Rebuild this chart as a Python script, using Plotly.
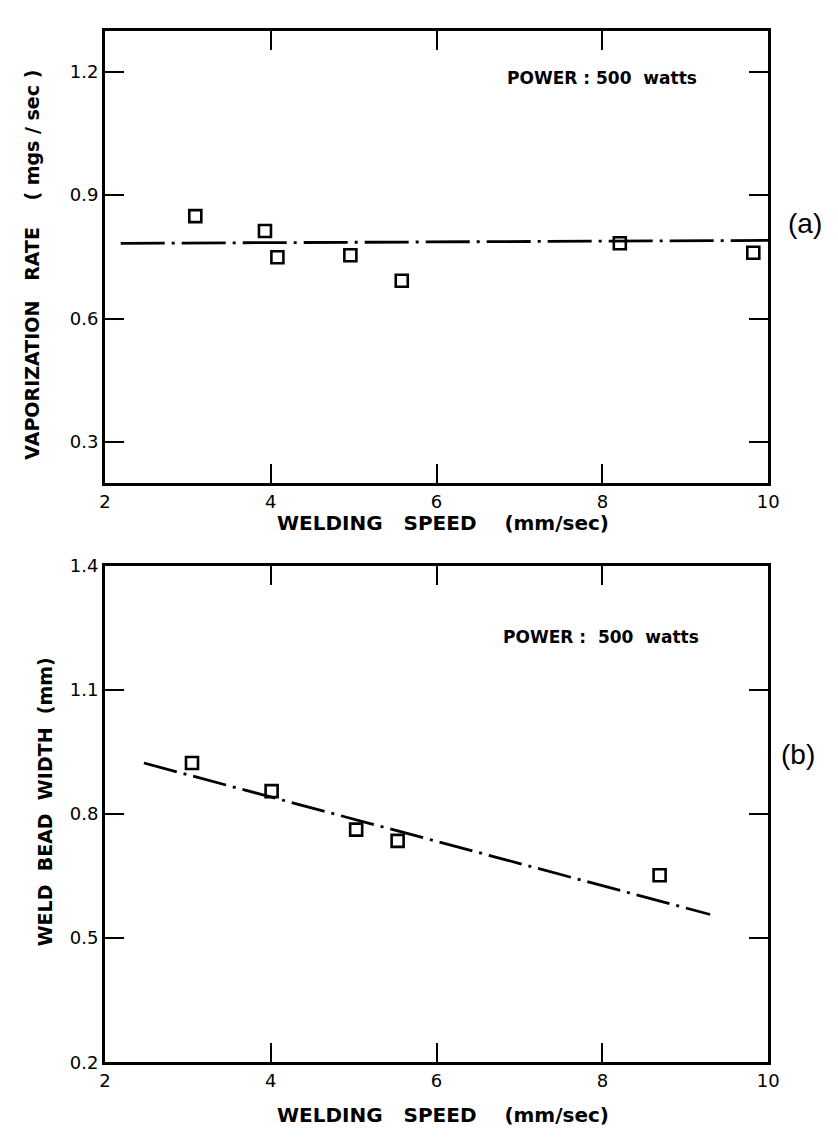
import plotly.graph_objects as go

# ---- data ----
speed_a = [3.09, 3.93, 4.08, 4.96, 5.58, 8.21, 9.82]
rate_a = [0.849, 0.813, 0.749, 0.754, 0.692, 0.783, 0.76]
fit_a_x = [2.19, 10.0]
fit_a_y = [0.783, 0.79]

speed_b = [3.05, 4.01, 5.03, 5.53, 8.69]
width_b = [0.923, 0.855, 0.762, 0.735, 0.652]
fit_b_x = [2.47, 9.30]
fit_b_y = [0.923, 0.557]

x_ticks = [2, 4, 6, 8, 10]
ya_ticks = [0.3, 0.6, 0.9, 1.2]
yb_ticks = [0.2, 0.5, 0.8, 1.1, 1.4]

W, H = 838, 1140
xdom = [101 / W, 778 / W]
ya_dom = [1 - 481 / H, 1 - 20 / H]
yb_dom = [1 - 1071 / H, 1 - 565 / H]

fig = go.Figure()
marker = dict(symbol="square-open", size=12, color="black", line=dict(width=2.6, color="black"))

fig.add_trace(go.Scatter(x=fit_a_x, y=fit_a_y, mode="lines", xaxis="x", yaxis="y",
                         line=dict(color="black", width=2.8, dash="44px,7px,3px,7px"), showlegend=False))
fig.add_trace(go.Scatter(x=speed_a, y=rate_a, mode="markers", xaxis="x", yaxis="y",
                         marker=marker, showlegend=False))
fig.add_trace(go.Scatter(x=fit_b_x, y=fit_b_y, mode="lines", xaxis="x2", yaxis="y2",
                         line=dict(color="black", width=2.8, dash="34px,7px,3px,7px"), showlegend=False))
fig.add_trace(go.Scatter(x=speed_b, y=width_b, mode="markers", xaxis="x2", yaxis="y2",
                         marker=marker, showlegend=False))

tickfont = dict(family="DejaVu Sans", size=18, color="black")
ax_common = dict(showline=True, linewidth=3, linecolor="black", mirror="ticks",
                 ticks="inside", ticklen=19, tickwidth=2.2, tickcolor="black",
                 showgrid=False, zeroline=False, tickfont=tickfont)

fig.update_layout(
    width=W, height=H,
    margin=dict(l=0, r=0, t=0, b=0),
    plot_bgcolor="white", paper_bgcolor="white",
    xaxis=dict(domain=xdom, range=[2, 10], tickvals=x_ticks, anchor="y", **ax_common),
    yaxis=dict(domain=ya_dom, range=[0.2, 1.3], tickvals=ya_ticks, ticktext=["0.3", "0.6", "0.9", "1.2"],
               anchor="x", **ax_common),
    xaxis2=dict(domain=xdom, range=[2, 10], tickvals=x_ticks, anchor="y2", **ax_common),
    yaxis2=dict(domain=yb_dom, range=[0.2, 1.4], tickvals=yb_ticks,
                ticktext=["0.2", "0.5", "0.8", "1.1", "1.4"], anchor="x2", **ax_common),
)

xtitle_font = dict(family="DejaVu Sans", size=20, color="black", weight="bold")
ytitle_font = dict(family="DejaVu Sans", size=19, color="black", weight="bold")
ann_font = dict(family="DejaVu Sans", size=17, color="black", weight="bold")
ann = [
    dict(text="WELDING   SPEED    (mm/sec)", x=446 / W, y=1 - 522 / H, xref="paper", yref="paper",
         showarrow=False, font=xtitle_font, xanchor="center", yanchor="middle"),
    dict(text="WELDING   SPEED    (mm/sec)", x=446 / W, y=1 - 1125 / H, xref="paper", yref="paper",
         showarrow=False, font=xtitle_font, xanchor="center", yanchor="middle"),
    dict(text="VAPORIZATION   RATE    ( mgs / sec )", x=27 / W, y=1 - 258 / H, xref="paper", yref="paper",
         showarrow=False, font=ytitle_font, textangle=-90, xanchor="center", yanchor="middle"),
    dict(text="WELD  BEAD  WIDTH  (mm)", x=40 / W, y=1 - 806 / H, xref="paper", yref="paper",
         showarrow=False, font=ytitle_font, textangle=-90, xanchor="center", yanchor="middle"),
    dict(text="POWER : 500  watts", x=7.99, y=1.185, xref="x", yref="y", showarrow=False,
         font=ann_font, xanchor="center", yanchor="middle"),
    dict(text="POWER :  500  watts", x=7.98, y=1.227, xref="x2", yref="y2", showarrow=False,
         font=ann_font, xanchor="center", yanchor="middle"),
    dict(text="(a)", x=816 / W, y=1 - 216 / H, xref="paper", yref="paper", showarrow=False,
         font=dict(family="Liberation Sans", size=28, color="black"), xanchor="center", yanchor="middle"),
    dict(text="(b)", x=808 / W, y=1 - 757 / H, xref="paper", yref="paper", showarrow=False,
         font=dict(family="Liberation Sans", size=28, color="black"), xanchor="center", yanchor="middle"),
]
fig.update_layout(annotations=ann)

fig.write_html("out.html")
